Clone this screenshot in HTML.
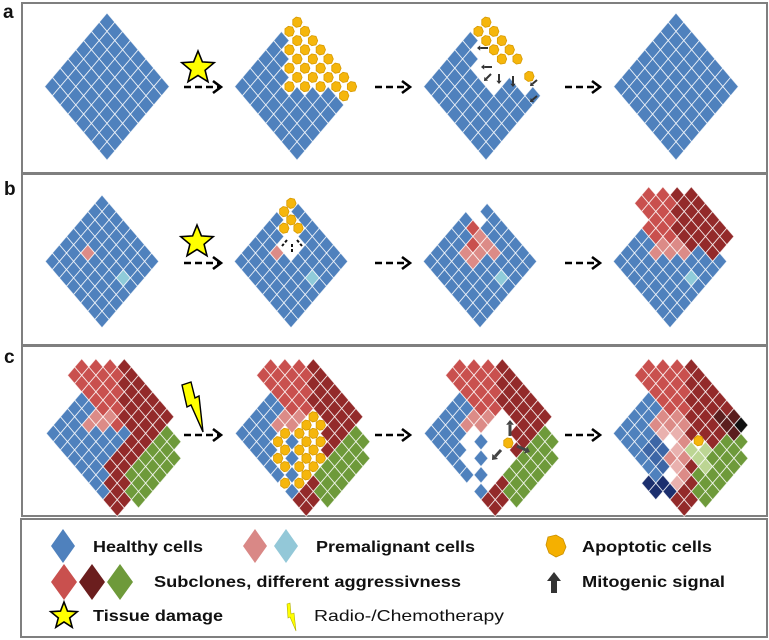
<!DOCTYPE html>
<html><head><meta charset="utf-8"><style>
html,body{margin:0;padding:0;background:#fff;}
svg{display:block;}
text{font-family:"Liberation Sans",Arial,sans-serif;}
</style></head><body>
<svg id="s" width="769" height="640" viewBox="0 0 769 640">
<rect x="0" y="0" width="769" height="640" fill="#fff"/>
<g fill="none" stroke="#7f7f7f" stroke-width="2">
<rect x="22" y="3" width="745" height="170"/>
<rect x="22" y="174" width="745" height="171"/>
<rect x="22" y="346" width="745" height="170"/>
<rect x="21" y="519" width="746" height="118"/>
</g>
<g font-weight="bold" font-size="19" fill="#111">
<text x="3" y="18">a</text>
<text x="4" y="195">b</text>
<text x="4" y="363">c</text>
</g>
<g id="cells"></g>
<g font-size="16" fill="#111" font-weight="bold">
<text x="93" y="552" textLength="110" lengthAdjust="spacingAndGlyphs">Healthy cells</text>
<text x="316" y="552" textLength="159" lengthAdjust="spacingAndGlyphs">Premalignant cells</text>
<text x="582" y="552" textLength="130" lengthAdjust="spacingAndGlyphs">Apoptotic cells</text>
<text x="154" y="587" textLength="307" lengthAdjust="spacingAndGlyphs">Subclones, different aggressivness</text>
<text x="582" y="587" textLength="143" lengthAdjust="spacingAndGlyphs">Mitogenic signal</text>
<text x="93" y="621" textLength="130" lengthAdjust="spacingAndGlyphs">Tissue damage</text>
<text x="314" y="621" textLength="190" lengthAdjust="spacingAndGlyphs" font-weight="normal">Radio-/Chemotherapy</text>
</g>
</svg>
<script>
var out='';
var B='#4f81bd',P='#dc8b87',L='#8fcbd9',R='#c9504e',D='#932a2a',G='#6e9a3a',N='#1c2f6e',M='#3d66a6',LG='#bcd593',PL='#e9b1ae',K='#111111',BR='#5b1e1e';
function cell(x,y,hx,hy,c){out+='<polygon points="'+x+','+(y-hy)+' '+(x+hx)+','+y+' '+x+','+(y+hy)+' '+(x-hx)+','+y+'" fill="'+c+'" stroke="#fff" stroke-opacity="0.75" stroke-width="0.9"/>';}
function blob(x,y,s){s=s||0.85;var p=[[-5,-3],[-1,-6],[4,-5],[6,0],[4,5],[-1,6],[-5,3]];out+='<polygon points="'+p.map(function(q){return (x+q[0]*s)+','+(y+q[1]*s)}).join(' ')+'" fill="#f5b60c" stroke="#d89a00" stroke-width="0.8"/>';}
function grid(cx,top,hx,hy,fn){for(var i=-4;i<13;i++)for(var j=-4;j<13;j++){var x=cx+(i-j)*hx,y=top+(i+j+1)*hy;var c=fn(i,j,x,y);if(!c||c=='W')continue;if(c=='A')blob(x,y);else cell(x,y,hx,hy,c);}}
function inD(i,j){return i>=0&&i<8&&j>=0&&j<8;}
function has(a,i,j){for(var k=0;k<a.length;k++)if(a[k][0]==i&&a[k][1]==j)return true;return false;}
function arrow(x1,y1,x2,y2,w,col){var dx=x2-x1,dy=y2-y1,l=Math.sqrt(dx*dx+dy*dy),ux=dx/l,uy=dy/l,hl=w*1.6,hw=w*1.3;var bx=x2-ux*hl,by=y2-uy*hl;out+='<line x1="'+x1+'" y1="'+y1+'" x2="'+bx+'" y2="'+by+'" stroke="'+col+'" stroke-width="'+w+'"/>';out+='<polygon points="'+x2+','+y2+' '+(bx-uy*hw)+','+(by+ux*hw)+' '+(bx+uy*hw)+','+(by-ux*hw)+'" fill="'+col+'"/>';}
function dash(x1,x2,y){out+='<line x1="'+x1+'" y1="'+y+'" x2="'+(x2-2)+'" y2="'+y+'" stroke="#000" stroke-width="2.6" stroke-dasharray="7,4"/>';out+='<polyline points="'+(x2-8)+','+(y-6)+' '+x2+','+y+' '+(x2-8)+','+(y+6)+'" fill="none" stroke="#000" stroke-width="2.6"/>';}
function star(cx,cy,ro,ri){var p=[];for(var k=0;k<10;k++){var a=-Math.PI/2+k*Math.PI/5,r=k%2?ri:ro;p.push((cx+r*Math.cos(a)).toFixed(1)+','+(cy+r*Math.sin(a)).toFixed(1));}out+='<polygon points="'+p.join(' ')+'" fill="#ffff00" stroke="#000" stroke-width="1.6"/>';}

var ahx=7.8,ahy=9.2,at=13;
grid(107,at,ahx,ahy,function(i,j){return inD(i,j)?B:0;});
grid(297,at,ahx,ahy,function(i,j,x,y){if(!inD(i,j))return 0;if((x>=283&&y<=92)||(i==7&&j==1))return 'A';return B;});
var a3A=[[0,0],[0,1],[1,0],[2,0],[3,0],[4,0],[2,1],[3,1],[1,1]];
grid(486,at,ahx,ahy,function(i,j){if(!inD(i,j))return 0;if(j>=4||(j>=2&&(i==0||i>=5))||(j==3&&i==1)||(j==1&&i>=7))return B;if(has(a3A,i,j))return 'A';return 0;});
blob(486+5*ahx+4,at+7*ahy-1);
arrow(488,48,477,48,2,'#333');arrow(492,67,481,67,2,'#333');arrow(491,74,484,81,2,'#333');arrow(499,74,499,84,2,'#333');arrow(513,76,513,87,2,'#333');arrow(537,80,530,86,2,'#333');arrow(537,96,530,102,2,'#333');
grid(676,at,ahx,ahy,function(i,j){return inD(i,j)?B:0;});
star(198,68,17,7.5);
dash(184,221,87);dash(375,410,87);dash(565,600,87);

var bhx=7.1,bhy=8.3,bt=195;
grid(102,bt,bhx,bhy,function(i,j){if(!inD(i,j))return 0;if(i==2&&j==4)return P;if(i==6&&j==3)return L;return B;});
var b2A=[[0,0],[0,1],[1,1],[1,2],[2,1]],b2W=[[2,2],[3,2],[2,3],[3,3]];
grid(291,bt,bhx,bhy,function(i,j){if(!inD(i,j))return 0;if(has(b2A,i,j))return 'A';if(has(b2W,i,j))return 0;if(i==2&&j==4)return P;if(i==6&&j==3)return L;return B;});
out+='<g stroke="#111" stroke-width="2" stroke-dasharray="3,2"><line x1="287" y1="240" x2="282" y2="246"/><line x1="292" y1="244" x2="292" y2="252"/><line x1="297" y1="240" x2="302" y2="246"/></g>';
grid(480,bt,bhx,bhy,function(i,j){if(!inD(i,j))return 0;if(has([[0,0],[0,1],[1,1]],i,j))return 0;if(has([[1,2],[2,3]],i,j))return R;if(has([[2,2],[3,2],[3,3],[2,4],[4,2],[3,4]],i,j))return P;if(i==6&&j==3)return L;return B;});
grid(670,bt,bhx,bhy,function(i,j){
 var red=(i+j>=-1&&j>=-2&&i>=-2&&i<=6&&j<=2&&i-j>=-4&&!(i>=5&&j>0))||(j==3&&i<=1&&i>=0);
 if(has([[2,4],[3,3],[3,2],[2,3],[4,2]],i,j))return P;
 if(red)return (i-j>=1)?D:R;
 if(!inD(i,j))return 0;if(i==6&&j==3)return L;return B;});
star(197,242,17,7.5);
dash(184,221,263);dash(375,410,263);dash(565,600,263);

var chx=7.1,cht=367;
var PK=[[2,3],[3,3],[2,4],[3,2]];
function base(i,j){
 if(i>=8&&i<=10&&j>=-1&&j<=5&&i-j>=4&&!(i==10&&j==-1))return G;
 if(i>=6&&i<=9&&j>=2&&j<=7&&i-j>=1&&i-j<=5)return D;
 if(i>=1&&i<=7&&j>=-2&&j<=1&&i-j>=3&&i+j>=-1)return D;
 if(has(PK,i,j))return P;
 if(has([[4,1],[5,1]],i,j))return B;
 if(i>=-2&&j>=-2&&j<=2&&i+j>=-1&&i-j<3&&i-j>=-4)return R;
 if(inD(i,j))return B;return 0;}
function zone(i,j){var d=i-j,s=i+j;if(has(PK,i,j))return false;if(i>=8&&d>=4)return false;return (d>=-2&&d<=4&&s>=5&&s<=11)||(d>=-1&&d<=2&&s>=12&&s<=13);}
function diag(i,j){return i==j&&i>=4&&i<=6;}
grid(103,cht,chx,bhy,base);
grid(292,cht,chx,bhy,function(i,j){if(zone(i,j)){if(diag(i,j))return B;return 'A';}return base(i,j);});
grid(481,cht,chx,bhy,function(i,j){if(zone(i,j)){if(diag(i,j))return B;return 0;}return base(i,j);});
blob(508,443);
arrow(510,436,510,420,3,'#444');arrow(517,446,530,452,3,'#444');arrow(501,450,492,460,3,'#444');
var c4M=[[4,5],[4,6],[5,6],[3,6],[3,5]],c4N=[[6,7],[7,7],[6,8],[5,8]],c4LG=[[7,2],[7,3],[6,3],[8,3]],c4BR=[[7,-2],[8,-1],[6,-1],[7,-1]];
grid(670,cht,chx,bhy,function(i,j){
 if(i==8&&j==-2)return K;if(has(c4BR,i,j))return BR;if(has(c4LG,i,j))return LG;if(has(c4N,i,j))return N;if(has(c4M,i,j))return M;
 if(zone(i,j)){if(i==6&&j==2)return 0;if(i-j>=3)return (i+j)%4?D:'W';if(diag(i,j))return (i+j)%4?P:'W';return (i-j<=1&&i-j>=-2)?PL:P;}
 return base(i,j);});
blob(670+4*chx,cht+9*bhy-1);
out+='<polygon points="182,385 191,382 195,398 199,396 203,432 191,405 187,407" fill="#ffff00" stroke="#000" stroke-width="1.4"/>';
dash(184,221,435);dash(375,410,435);dash(565,600,435);

function ld(x,y,w,h,c){out+='<polygon points="'+x+','+(y-h)+' '+(x+w)+','+y+' '+x+','+(y+h)+' '+(x-w)+','+y+'" fill="'+c+'"/>';}
ld(63,546,12,17,B);ld(255,546,12,17,'#d98886');ld(286,546,12,17,'#93c8d8');
ld(64,582,13,18,R);ld(92,582,13,18,'#6b1e1e');ld(120,582,13,18,G);
out+='<polygon points="548,537 556,535 563,539 566,547 563,554 556,557 549,553 546,545" fill="#f5b000" stroke="#c98f00" stroke-width="0.8"/>';
out+='<polygon points="554,572 561,581 557,581 557,593 551,593 551,581 547,581" fill="#333"/>';
star(64,616,14,6);
out+='<polygon points="287,604 290,603 291,614 294,613 296,631 290,617 288,618" fill="#ffff00" stroke="#b0b000" stroke-width="0.6"/>';
document.getElementById('cells').innerHTML=out;
</script>
</body></html>
